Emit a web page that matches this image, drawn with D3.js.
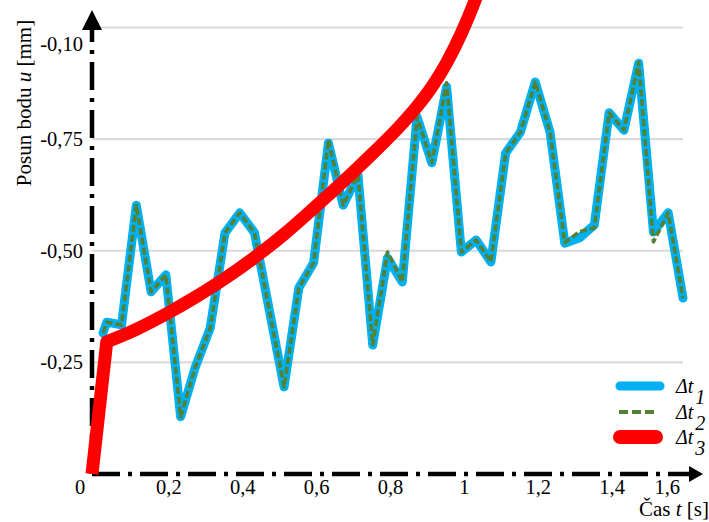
<!DOCTYPE html>
<html>
<head>
<meta charset="utf-8">
<script src="https://cdn.jsdelivr.net/npm/d3@7"></script>
<style>
  html, body { margin: 0; padding: 0; background: #fff; }
  svg { display: block; }
  text { font-family: "Liberation Serif", "Times New Roman", Times, "DejaVu Serif", serif; fill: #000; }
</style>
</head>
<body>
<svg id="chart" width="709" height="522"></svg>
<script>
// ---- data ----
const seriesNames = ["Δt", "Δt", "Δt"];
const seriesSubs = ["1", "2", "3"];

const timeT = [0.03, 0.04, 0.08, 0.12, 0.16, 0.20, 0.24, 0.28, 0.32, 0.36, 0.40, 0.44, 0.48, 0.52, 0.56, 0.60, 0.64, 0.68, 0.72, 0.76, 0.80,
               0.84, 0.88, 0.92, 0.96, 1.00, 1.04, 1.08, 1.12, 1.16, 1.20, 1.24, 1.28, 1.32, 1.36, 1.40, 1.44, 1.48, 1.52, 1.56, 1.60];

const dt1 = [-0.316, -0.340, -0.334, -0.602, -0.408, -0.446, -0.128, -0.240, -0.327, -0.540, -0.585, -0.540, -0.367, -0.195, -0.417, -0.473, -0.741, -0.602, -0.670, -0.289, -0.484,
             -0.430, -0.800, -0.697, -0.867, -0.497, -0.524, -0.475, -0.719, -0.766, -0.878, -0.766, -0.517, -0.529, -0.558, -0.809, -0.770, -0.920, -0.542, -0.585, -0.394];

const dt2 = [-0.316, -0.340, -0.334, -0.602, -0.408, -0.446, -0.128, -0.240, -0.327, -0.540, -0.585, -0.540, -0.367, -0.195, -0.417, -0.473, -0.748, -0.602, -0.670, -0.289, -0.497,
             -0.430, -0.800, -0.697, -0.876, -0.497, -0.524, -0.475, -0.719, -0.766, -0.878, -0.766, -0.518, -0.543, -0.551, -0.809, -0.770, -0.922, -0.520, -0.585, -0.394];

const timeT3 = [0, 0.04, 0.12, 0.20, 0.28, 0.36, 0.44, 0.52, 0.60, 0.68, 0.76, 0.84, 0.88, 0.92, 0.96, 1.00, 1.04, 1.08];
const dt3 = [0, -0.296, -0.324, -0.358, -0.396, -0.438, -0.485, -0.537, -0.595, -0.655, -0.718, -0.785, -0.823, -0.867, -0.921, -0.987, -1.067, -1.163];

const xTickValues = [0.2, 0.4, 0.6, 0.8, 1.0, 1.2, 1.4, 1.6];
const xTickLabels = ["0,2", "0,4", "0,6", "0,8", "1", "1,2", "1,4", "1,6"];
const yTickValues = [-0.25, -0.5, -0.75, -1.0];
const yTickLabels = ["-0,25", "-0,50", "-0,75", "-0,10"];

const xTitle = ["Čas ", "t", " [s]"];
const yTitle = ["Posun bodu ", "u", " [mm]"];

// ---- drawing ----
const svg = d3.select("#chart");
const x = d3.scaleLinear().domain([0, 1.6]).range([92, 683]);
const y = d3.scaleLinear().domain([0, -1]).range([474, 27.5]);

// gridlines
svg.append("g").selectAll("line").data(yTickValues).join("line")
  .attr("x1", x(0)).attr("x2", x(1.6))
  .attr("y1", d => y(d)).attr("y2", d => y(d))
  .attr("stroke", "#d9d9d9").attr("stroke-width", 2.2);

// axes (dash-dot)
const axisDash = "28,8,4,8";
svg.append("line").attr("x1", x(0)).attr("x2", x(0)).attr("y1", y(0)).attr("y2", 28)
  .attr("stroke", "#000").attr("stroke-width", 4.5).attr("stroke-dasharray", axisDash);
svg.append("line").attr("x1", x(0)).attr("x2", 692).attr("y1", y(0)).attr("y2", y(0))
  .attr("stroke", "#000").attr("stroke-width", 4.5).attr("stroke-dasharray", axisDash);
// arrows
svg.append("path").attr("d", `M${x(0)},10 L${x(0) - 10},30 L${x(0) + 10},30 Z`).attr("fill", "#000");
svg.append("path").attr("d", `M703,${y(0)} L689,${y(0) - 8} L689,${y(0) + 8} Z`).attr("fill", "#000");

// tick labels
svg.append("g").selectAll("text").data(xTickValues).join("text")
  .attr("x", (d, i) => i === xTickValues.length - 1 ? x(d) - 3 : x(d) + 3)
  .attr("y", 494)
  .attr("text-anchor", (d, i) => i === xTickValues.length - 1 ? "end" : "middle")
  .attr("font-size", 20.5)
  .text((d, i) => xTickLabels[i]);

svg.append("g").selectAll("text").data(yTickValues).join("text")
  .attr("x", 83)
  .attr("y", (d, i) => (i === yTickValues.length - 1 ? y(d) + 16 : y(d)) + 7)
  .attr("text-anchor", "end")
  .attr("font-size", 20.5)
  .text((d, i) => yTickLabels[i]);

svg.append("text").attr("x", 80).attr("y", 494).attr("text-anchor", "middle")
  .attr("font-size", 20.5).text("0");

// axis titles
const xt = svg.append("text").attr("x", 709).attr("y", 516).attr("text-anchor", "end").attr("font-size", 21);
xTitle.forEach((s, i) => xt.append("tspan").attr("font-style", i === 1 ? "italic" : "normal").text(s));

const yt = svg.append("text").attr("transform", "translate(31,103) rotate(-90)")
  .attr("text-anchor", "middle").attr("font-size", 21);
yTitle.forEach((s, i) => yt.append("tspan").attr("font-style", i === 1 ? "italic" : "normal").text(s));

// series
const line = d3.line().x(d => x(d[0])).y(d => y(d[1]));
const smooth = d3.line().x(d => x(d[0])).y(d => y(d[1])).curve(d3.curveMonotoneX);
const s1 = timeT.map((t, i) => [t, dt1[i]]);
const s2 = timeT.map((t, i) => [t, dt2[i]]);
const s3 = timeT3.map((t, i) => [t, dt3[i]]);

svg.append("path").attr("d", line(s1)).attr("fill", "none")
  .attr("stroke", "#00b0f0").attr("stroke-width", 9)
  .attr("stroke-linejoin", "round").attr("stroke-linecap", "round");
svg.append("path").attr("d", line(s2)).attr("fill", "none")
  .attr("stroke", "#548235").attr("stroke-width", 3.6)
  .attr("stroke-dasharray", "7,3")
  .attr("stroke-linejoin", "round");
// red: straight first rise, then smooth curve
svg.append("path").attr("d", line(s3.slice(0, 2)) + smooth(s3.slice(1)).replace(/^M/, "L")).attr("fill", "none")
  .attr("stroke", "#ff0000").attr("stroke-width", 13)
  .attr("stroke-linejoin", "round").attr("stroke-linecap", "butt");

// legend
const legend = svg.append("g");
const legY = [386, 412, 437];
const legStroke = [
  {c: "#00b0f0", w: 9, dash: null, x1: 620, x2: 660},
  {c: "#548235", w: 4, dash: "9,4", x1: 619, x2: 658},
  {c: "#ff0000", w: 14, dash: null, x1: 620, x2: 656}
];
legStroke.forEach((st, i) => {
  legend.append("line").attr("x1", st.x1).attr("x2", st.x2).attr("y1", legY[i]).attr("y2", legY[i])
    .attr("stroke", st.c).attr("stroke-width", st.w)
    .attr("stroke-linecap", st.dash ? "butt" : "round")
    .attr("stroke-dasharray", st.dash);
  const t = legend.append("text").attr("x", 676).attr("y", legY[i] + 7).attr("font-size", 20).attr("font-style", "italic");
  t.append("tspan").text(seriesNames[i]);
  t.append("tspan").attr("dy", 11).attr("dx", 2).text(seriesSubs[i]);
});
</script>
</body>
</html>
